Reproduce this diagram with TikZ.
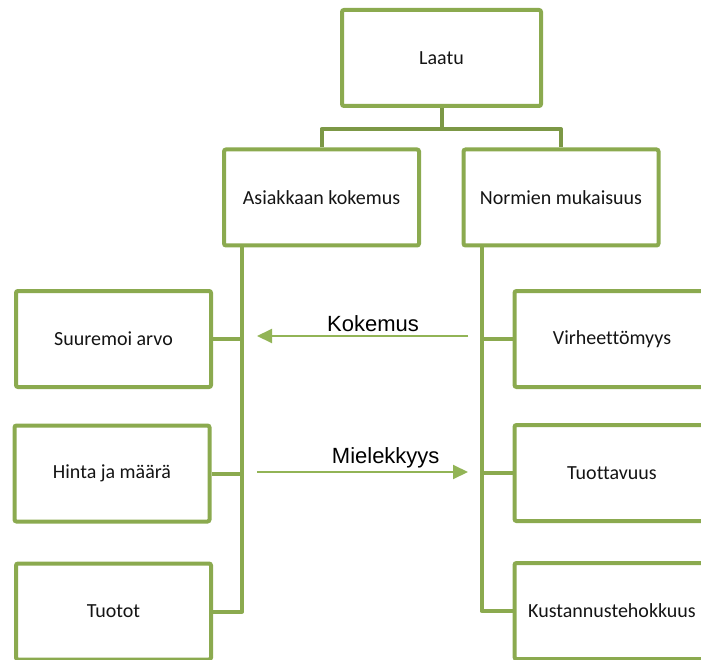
\documentclass[tikz,border=0pt]{standalone}
\usepackage{fontspec}
\setmainfont{Carlito}[Ligatures=NoCommon]
\newfontfamily\arialfont{Liberation Sans}
\usepackage{tikz}
\usetikzlibrary{positioning, calc, arrows.meta}
\definecolor{boxc}{RGB}{139,170,79}
\definecolor{barc}{RGB}{124,152,70}
\definecolor{arrc}{RGB}{146,180,86}
\definecolor{txtc}{RGB}{20,20,20}

\begin{document}
\begin{tikzpicture}[x=1pt, y=-1pt,
  % green org-chart boxes
  orgbox/.style={draw=boxc, line width=4pt, rounded corners=2pt, fill=white,
                 minimum width=195pt, minimum height=96pt, inner sep=0pt,
                 text=txtc, font=\fontsize{20pt}{24pt}\selectfont},
  link/.style={draw=boxc, line width=4pt, line join=round},
  toplink/.style={draw=barc, line width=4pt, line join=round},
  flow/.style={draw=arrc, fill=arrc, line width=2pt, -{Triangle[length=15pt, width=14pt]}},
  flowlab/.style={text=black, font=\arialfont\fontsize{22pt}{26pt}\selectfont, above=0pt},
]
\clip (0,0) rectangle (701,660);

%% ── boxes ───────────────────────────────────────────────────────
\node[orgbox, minimum width=199pt] (laatu) at (441.5,58) {Laatu};
\node[orgbox] (asiakas) at (321.5,197.5) {Asiakkaan kokemus};
\node[orgbox] (normien) at (561,197.5) {Normien mukaisuus};

\node[orgbox] (suure)  at (113.5,339)   {Suuremoi arvo};
\node[orgbox] (hinta)  at (112,473.5)   {Hinta ja määrä};
\node[orgbox] (tuotot) at (113.5,611.5) {Tuotot};

\node[orgbox] (virhe)  at (612,339) {Virheettömyys};
\node[orgbox] (tuott)  at (612,473) {Tuottavuus};
\node[orgbox] (kust)   at (612,611) {Kustannustehokkuus};

%% ── top level connectors ────────────────────────────────────────
\draw[toplink] (laatu.south) -- ++(0,21) -| (asiakas.north);
\draw[toplink] (laatu.south) -- ++(0,21) -| (normien.north);

%% ── hanging branches ───────────────────────────────────────────
\coordinate (ak) at ([xshift=20pt]asiakas.south west);
\coordinate (nk) at ([xshift=20pt]normien.south west);

\draw[link] (ak) |- (tuotot.east);
\draw[link] (suure.east) -- (suure.east -| ak);
\draw[link] (hinta.east) -- (hinta.east -| ak);

\draw[link] (nk) |- (kust.west);
\draw[link] (virhe.west) -- (virhe.west -| nk);
\draw[link] (tuott.west) -- (tuott.west -| nk);

%% ── arrows between the branches ────────────────────────────────
\coordinate (kr) at (468,336);
\coordinate (kl) at (257,336);
\coordinate (ml) at (257,472);
\coordinate (mr) at (468,472);

\draw[flow] (kr) -- (kl) node[flowlab, pos=0.45] (koklab) {Kokemus};
\draw[flow] (ml) -- (mr) node[flowlab, pos=0.61] (mielab) {Mielekkyys};

\end{tikzpicture}
\end{document}
